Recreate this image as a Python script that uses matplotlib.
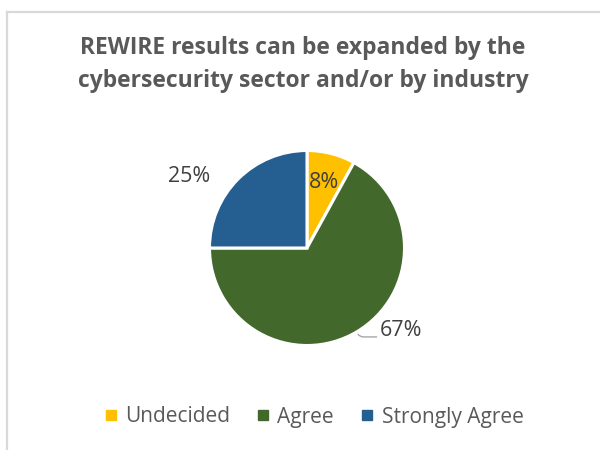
import numpy as np
import matplotlib.pyplot as plt
from matplotlib.lines import Line2D

labels = ['Undecided', 'Agree', 'Strongly Agree']
shares = [8, 67, 25]
colors = ['#FFC000', '#43682B', '#255E91']

plt.rcParams['font.family'] = ['Open Sans', 'DejaVu Sans']

fig = plt.figure(figsize=(6, 4.5), dpi=100)

# chart frame (cut off at right/bottom like the screenshot)
fig.add_artist(Line2D([7 / 600, 7 / 600], [0, 1 - 11.5 / 450], color='#D9D9D9', lw=1.6))
fig.add_artist(Line2D([7 / 600, 1], [1 - 11.5 / 450, 1 - 11.5 / 450], color='#D9D9D9', lw=1.6))

fig.text(303 / 600, 1 - 65 / 450,
         'REWIRE results can be expanded by the\ncybersecurity sector and/or by industry',
         ha='center', va='center', fontsize=16.5, fontweight='bold', color='#595959',
         linespacing=1.5)

ax = fig.add_axes([157 / 600, 1 - 398 / 450, 300 / 600, 300 / 450])
wedges, _ = ax.pie(shares, colors=colors, startangle=90, counterclock=False, radius=0.975,
                   wedgeprops=dict(edgecolor='white', linewidth=2.2))
ax.set_xlim(-1.5, 1.5)
ax.set_ylim(-1.5, 1.5)
ax.set_aspect('equal')
ax.axis('off')

txt = dict(fontsize=15.5, color='#404040')
for w, s, lab in zip(wedges, shares, labels):
    mid = np.deg2rad((w.theta1 + w.theta2) / 2)
    ex, ey = 0.975 * np.cos(mid), 0.975 * np.sin(mid)
    if lab == 'Undecided':
        ax.text(0.71 * ex, 0.69 * ey, f'{s}%', ha='center', va='center', **txt)
    elif lab == 'Strongly Agree':
        ax.annotate(f'{s}%', (ex, ey), xytext=(-49, 3), textcoords='offset pixels',
                    ha='center', va='center', **txt)
    else:
        ax.annotate(f'{s}%', (ex, ey), xytext=(23, 1), textcoords='offset pixels',
                    ha='left', va='center', **txt)
        # leader line: short bend off the rim, then horizontal to the label
        ax.annotate('', (ex, ey), xytext=(20, -5), textcoords='offset pixels',
                    arrowprops=dict(arrowstyle='-', color='#A6A6A6', lw=1,
                                    shrinkA=0, shrinkB=2,
                                    connectionstyle='angle,angleA=180,angleB=-60,rad=4'))

handles = [Line2D([], [], marker='s', linestyle='none', markersize=7, color=c) for c in colors]
fig.legend(handles, labels, loc='center', bbox_to_anchor=(313 / 600, 1 - 417 / 450), ncol=3,
           frameon=False, fontsize=15, handletextpad=0.28, columnspacing=1.2,
           labelcolor='#595959', handlelength=0.8)

fig.savefig('out.png', dpi=100)
